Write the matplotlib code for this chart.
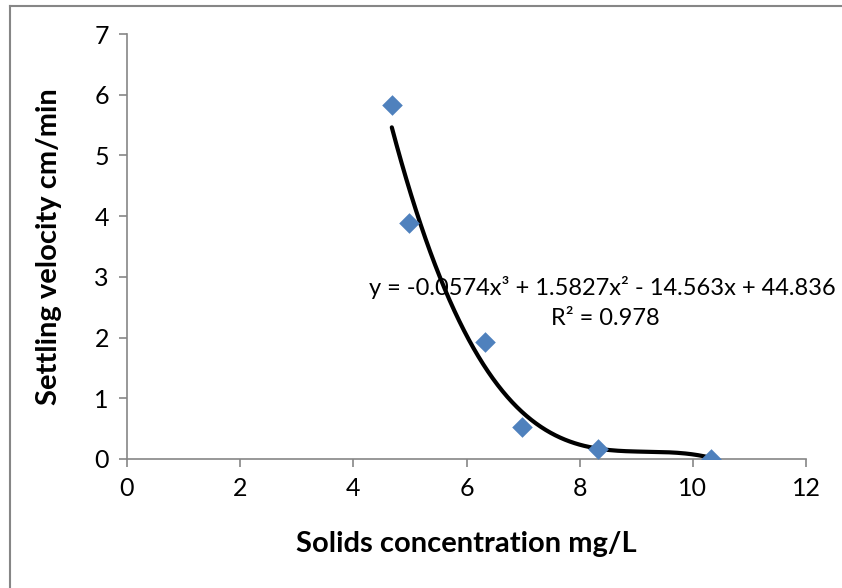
import matplotlib.pyplot as plt
import numpy as np
from matplotlib.lines import Line2D

# data
conc = [4.68, 4.98, 6.33, 6.98, 8.32, 10.32]
velocity = [5.83, 3.89, 1.93, 0.53, 0.16, 0.0]
# cubic trendline coefficients, as printed on the chart
coefs = [-0.0574, 1.5827, -14.563, 44.836]
r2 = 0.978

plt.rcParams['font.family'] = ['Lato', 'DejaVu Sans']
grey = '#868686'

fig = plt.figure(figsize=(8.42, 5.88), dpi=100)
ax = fig.add_axes([127/842, 1 - 459/588, (806 - 127)/842, (459 - 34)/588])

xs = np.linspace(min(conc), max(conc), 200)
ax.plot(xs, np.polyval(coefs, xs), color='black', lw=3, zorder=2, solid_capstyle='round')
ax.scatter(conc, velocity, marker='D', s=110, color='#4f81bd', zorder=3, linewidths=0)

ax.text(8.4, 2.83, 'y = -0.0574x³ + 1.5827x² - 14.563x + 44.836',
        ha='center', va='center', fontsize=17, zorder=4)
ax.text(8.45, 2.32, 'R² = %.3f' % r2, ha='center', va='center', fontsize=17, zorder=4)

ax.set_xlim(0, 12)
ax.set_ylim(0, 7)
ax.set_xticks(range(0, 13, 2))
ax.set_yticks(range(0, 8))
for s in ['top', 'right']:
    ax.spines[s].set_visible(False)
for s in ['left', 'bottom']:
    ax.spines[s].set_color(grey)
    ax.spines[s].set_linewidth(1.2)
ax.tick_params(direction='out', length=6, width=1.2, color=grey, labelsize=18, pad=7)

ax.set_xlabel('Solids concentration mg/L', fontsize=21, fontweight='bold', labelpad=22)
ax.set_ylabel('Settling velocity cm/min', fontsize=21, fontweight='bold')
ax.yaxis.set_label_coords(-0.096, 0.5)

# chart area border (only left and top edges visible)
fig.add_artist(Line2D([10/842, 10/842], [0, 1 - 6/588], color=grey, lw=1.5))
fig.add_artist(Line2D([10/842, 1], [1 - 6/588, 1 - 6/588], color=grey, lw=1.5))

fig.savefig('out.png', dpi=100)
